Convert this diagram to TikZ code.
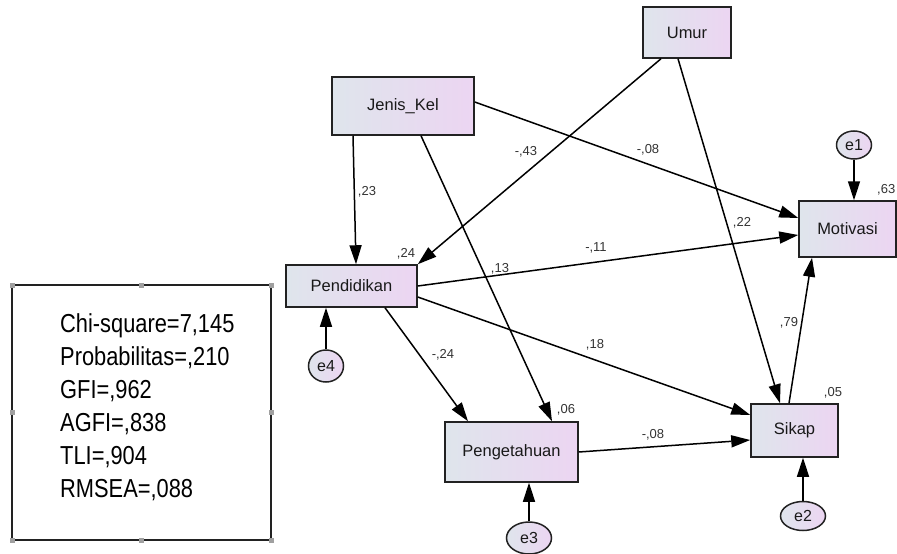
\documentclass[tikz,border=0pt]{standalone}
\usepackage{fontspec}
\setmainfont{Liberation Sans}
\newfontfamily\narrowfont[FakeStretch=0.84]{Liberation Sans}
\usetikzlibrary{arrows.meta,shapes.geometric}
\definecolor{gl}{HTML}{DFE5EC}
\definecolor{gr}{HTML}{ECD5F2}
\definecolor{bord}{HTML}{222222}
\definecolor{lab}{HTML}{333333}
\definecolor{handle}{HTML}{A0A0A0}
\begin{document}
\begin{tikzpicture}[x=1pt,y=-1pt,
  var/.style={draw=bord, line width=1.5pt, left color=gl, right color=gr, inner sep=0pt,
    font=\fontsize{16.5}{18}\selectfont, text=black!90},
  err/.style={ellipse, draw=bord, line width=1.5pt, left color=gl, right color=gr, inner sep=0pt,
    font=\fontsize{16}{18}\selectfont, text=black!90},
  arr/.style={-{Triangle[length=19pt,width=12pt]}, line width=1.5pt, draw=black},
  coef/.style={font=\fontsize{13}{15}\selectfont, text=lab, inner sep=0pt},
  fitline/.style={anchor=base west, inner sep=0pt, font=\narrowfont\fontsize{26}{30}\selectfont},
  hdl/.style={fill=handle, draw=none}
]
\useasboundingbox (0,0) rectangle (897,554);
\fill[white] (0,0) rectangle (897,554);

% observed variables
\node[var, minimum width=88pt, minimum height=51pt] (umur) at (687,32.5) {Umur};
\node[var, minimum width=142pt, minimum height=58pt] (jk) at (403,106) {Jenis\_Kel};
\node[var, minimum width=131pt, minimum height=42pt] (pend) at (351.5,286) {Pendidikan};
\node[var, minimum width=133pt, minimum height=60pt] (peng) at (511.5,452) {Pengetahuan};
\node[var, minimum width=87pt, minimum height=53pt] (sikap) at (794.5,430.5) {Sikap};
\node[var, minimum width=97pt, minimum height=56pt] (motiv) at (847.5,229) {Motivasi};

% error terms
\node[err, minimum width=35pt, minimum height=28pt] (e1) at (854,145) {e1};
\node[err, minimum width=45pt, minimum height=29pt] (e2) at (803,516) {e2};
\node[err, minimum width=45pt, minimum height=32pt] (e3) at (529,538) {e3};
\node[err, minimum width=35pt, minimum height=32pt] (e4) at (326,366) {e4};

% paths
\draw[arr] ([xshift=-50pt]jk.south) -- ([xshift=4.5pt]pend.north);
\draw[arr] ([xshift=18pt]jk.south) -- ([xshift=40.5pt]peng.north);
\draw[arr] ([yshift=4pt]jk.east) -- ([yshift=11pt]motiv.west);
\draw[arr] ([xshift=-26pt]umur.south) -- (pend.north east);
\draw[arr] ([xshift=-9pt]umur.south) -- ([xshift=-14.5pt]sikap.north);
\draw[arr] (pend.east) -- ([yshift=-6pt]motiv.west);
\draw[arr] ([yshift=-11pt]pend.east) -- ([yshift=15.5pt]sikap.west);
\draw[arr] ([xshift=33.5pt]pend.south) -- ([xshift=-43.5pt]peng.north);
\draw[arr] (peng.east) -- ([yshift=-9.5pt]sikap.west);
\draw[arr] ([xshift=-5.5pt]sikap.north) -- ([xshift=-35.5pt]motiv.south);
\draw[arr] (e1.south) -- ([xshift=6.5pt]motiv.north);
\draw[arr] (e2.north) -- ([xshift=8.5pt]sikap.south);
\draw[arr] (e3.north) -- ([xshift=17.5pt]peng.south);
\draw[arr] (e4.north) -- ([xshift=-25.5pt]pend.south);

% coefficients
\node[coef] (c1) at (367,192) {,23};
\node[coef] (c2) at (526,152) {-,43};
\node[coef] (c3) at (648,150) {-,08};
\node[coef] (c4) at (742,223) {,22};
\node[coef] (c5) at (596,248) {-,11};
\node[coef] (c6) at (500,269) {,13};
\node[coef] (c7) at (406,254) {,24};
\node[coef] (c8) at (443,355) {-,24};
\node[coef] (c9) at (595,345) {,18};
\node[coef] (c10) at (566,410) {,06};
\node[coef] (c11) at (653,435) {-,08};
\node[coef] (c12) at (833,393) {,05};
\node[coef] (c13) at (789,323) {,79};
\node[coef, anchor=west] (c14) at (877,190) {,63};

% fit box
\draw[line width=1.2pt, draw=bord] (12,285) rectangle (271,540);
\foreach \hx/\hy in {12/285,141.5/285,271/285,12/412.5,271/412.5,12/540,141.5/540,271/540}
  \fill[hdl] (\hx-2.5,\hy-2.5) rectangle (\hx+2.5,\hy+2.5);
\node[fitline] (f1) at (60,332) {Chi-square=7,145};
\node[fitline] (f2) at (60,365) {Probabilitas=,210};
\node[fitline] (f3) at (60,398) {GFI=,962};
\node[fitline] (f4) at (60,431) {AGFI=,838};
\node[fitline] (f5) at (60,464) {TLI=,904};
\node[fitline] (f6) at (60,497) {RMSEA=,088};
\end{tikzpicture}
\end{document}
